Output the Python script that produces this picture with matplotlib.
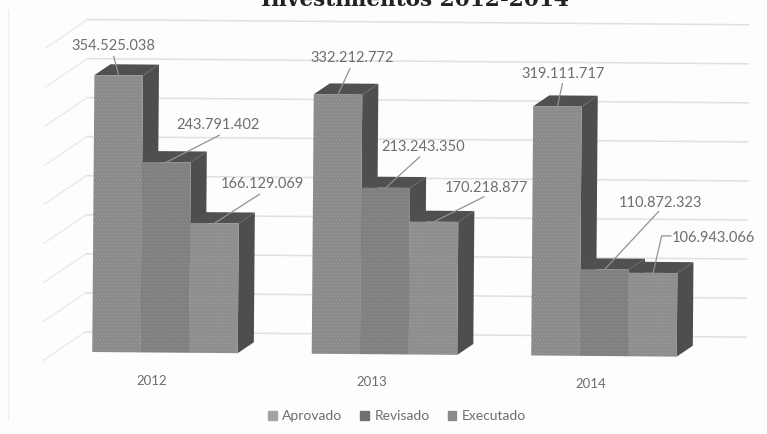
import matplotlib
matplotlib.use('Agg')
import matplotlib.pyplot as plt
from matplotlib.patches import Patch
from matplotlib.transforms import Affine2D

# --- data ---
years = ['2012', '2013', '2014']
series = ['Aprovado', 'Revisado', 'Executado']
aprovado = [354525038, 332212772, 319111717]
revisado = [243791402, 213243350, 110872323]
executado = [166129069, 170218877, 106943066]
grid_ticks = [0, 50, 100, 150, 200, 250, 300, 350, 400]  # millions

# --- layout (pixels of the 767x434 picture) ---
W, H = 767, 434
PX_X = 219.5    # one group
PX_Y = 0.781    # one million
X0, Y0 = 165, 352   # centre of first group, baseline
bar_w = 48.5 / PX_X
depth_x = 16 / PX_X
depth_y = 11 / PX_Y
wall_x = 85
wall_dy = 20 / PX_Y
floor_dx, floor_dy = -42 / PX_X, -29 / PX_Y

front_cols = ['#8b8b8b', '#808080', '#8e8e8e']
hatch_cols = ['#9c9c9c', '#909090', '#9e9e9e']
side_col = '#4e4e4e'
top_col = '#505050'
legend_cols = ['#a3a3a3', '#707070', '#8a8a8a']
text_col = '#6e6e6e'
line_col = '#929292'
grid_col = '#e0e0e0'
floor_col = '#e8e8e8'

# offsets from top centre of each bar: label centre, leader start
label_off = [[(-5, 29), (52, 37), (48, 39)],
             [(14, 36), (37, 41), (52, 34)],
             [(6, 32), (56, 66), (60, 35)]]
leader_off = [[(-5, 19), (53, 27), (45, 29)],
              [(12, 26), (34, 31), (50, 25)],
              [(5, 23), (54, 58), (18, 37)]]

plt.rcParams['font.family'] = ['Lato', 'DejaVu Sans']
plt.rcParams['hatch.linewidth'] = 0.4

fig = plt.figure(figsize=(W / 100, H / 100), dpi=100, facecolor='#fdfdfd')
ax = fig.add_axes([0, 0, 1, 1])
ax.set_xlim(-X0 / PX_X, (W - X0) / PX_X)
ax.set_ylim(-(H - Y0) / PX_Y, Y0 / PX_Y)
ax.axis('off')

# the scan is a little crooked, so everything is turned with it
tilt = Affine2D().rotate_deg_around(92, H - Y0, -0.45)
trans = ax.transData + tilt

# --- walls ---
left = (wall_x - X0) / PX_X
right = (746 - X0) / PX_X
for t in grid_ticks:
    y = t + wall_dy
    ax.plot([left, right], [y, y], color=grid_col, lw=1.1, transform=trans, zorder=1)
    ax.plot([left, left + floor_dx], [y, y + floor_dy], color=floor_col, lw=0.9,
            transform=trans, zorder=1)

# --- bars ---
values = [aprovado, revisado, executado]
for g in range(len(years)):
    for s in range(len(series)):
        val = values[s][g] / 1e6
        x0 = g + (s - 1.5) * bar_w
        x1 = x0 + bar_w
        z = 3 + s * 3
        ax.fill([x1, x1 + depth_x, x1 + depth_x, x1],
                [0, depth_y, val + depth_y, val], color=side_col, lw=0, transform=trans, zorder=z)
        ax.fill([x0, x0 + depth_x, x1 + depth_x, x1],
                [val, val + depth_y, val + depth_y, val], color=top_col, lw=0, transform=trans, zorder=z)
        ax.bar(x0, val, width=bar_w, align='edge', facecolor=front_cols[s], edgecolor=hatch_cols[s],
               hatch='.....', lw=0, transform=trans, zorder=z + 1)

# --- data labels and leader lines ---
for g in range(len(years)):
    for s in range(len(series)):
        val = values[s][g] / 1e6
        x = g + (s - 1) * bar_w
        txt = f'{values[s][g]:,}'.replace(',', '.')
        # the last label has an elbow in its leader
        style = 'angle,angleA=0,angleB=77,rad=0' if (g, s) == (2, 2) else 'arc3'
        ax.annotate('', xy=(x, val), xycoords=trans, xytext=leader_off[g][s], textcoords='offset pixels',
                    arrowprops=dict(arrowstyle='-', color=line_col, lw=0.9, shrinkA=0, shrinkB=0,
                                    connectionstyle=style), zorder=20)
        ax.annotate(txt, xy=(x, val), xycoords=trans, xytext=label_off[g][s], textcoords='offset pixels',
                    ha='center', va='center', fontsize=10.5, color=text_col, zorder=21)

# --- category labels ---
for g, year in enumerate(years):
    ax.annotate(year, xy=(g, 0), xycoords=trans, xytext=(-13, -28), textcoords='offset pixels',
                ha='center', va='center', fontsize=9.5, color=text_col)

# --- legend ---
handles = [Patch(color=c, label=n) for c, n in zip(legend_cols, series)]
ax.legend(handles=handles, ncol=3, loc='center', bbox_to_anchor=(397 / W, 1 - 416 / H), frameon=False,
          fontsize=10, labelcolor=text_col, handlelength=0.6, handleheight=0.6,
          handletextpad=0.4, columnspacing=1.3, borderpad=0)

# --- title, cut off by the top of the page ---
fig.text(415 / W, 1 - 6 / H, 'Investimentos 2012-2014', ha='center', va='baseline',
         family='DejaVu Serif', fontweight='bold', fontsize=15.6, color='#222222')

# left edge of the chart box
fig.add_artist(plt.Line2D([8 / W, 8 / W], [1 - 10 / H, 1 - 420 / H], color='#eeeeee', lw=1))

fig.savefig('out.png', dpi=100, facecolor=fig.get_facecolor())
